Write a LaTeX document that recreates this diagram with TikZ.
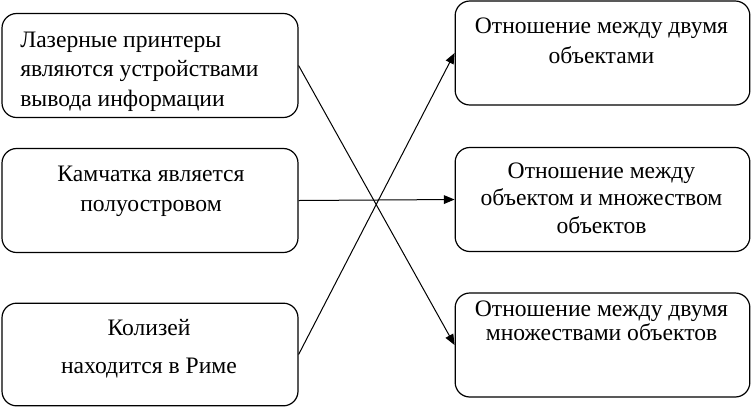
\documentclass[tikz,border=0pt]{standalone}
\usepackage{fontspec}
\setmainfont{Liberation Serif}
\usetikzlibrary{arrows.meta}

\begin{document}
\begin{tikzpicture}[
  x=0.75pt, y=-0.75pt,
  font=\rmfamily\fontsize{17.7}{22}\selectfont,
  box/.style  = {draw, rounded corners=11pt, line width=0.9pt,
                 minimum height=78pt, inner sep=0pt},
  fact/.style = {box, minimum width=222pt},
  rel/.style  = {box, minimum width=221pt},
  txt/.style  = {align=center, inner sep=0pt, anchor=base},
  flow/.style = {-{Triangle[length=8pt,width=6.5pt]}, line width=0.75pt},
]
\useasboundingbox (0,0) rectangle (752,408);

% ---------- facts ----------
\node[fact] (fact1) at (150,65.5)  {};
\node[fact] (fact2) at (150,200.5) {};
\node[fact, minimum height=77pt] (fact3) at (150,354.5) {};

\node[txt, align=left, anchor=base west] (fact1txt) at (20,106)
      {Лазерные принтеры\\являются устройствами\\вывода информации};
\node[txt, font=\rmfamily\fontsize{17.7}{22.5}\selectfont] (fact2txt) at (151,211.5)
      {Камчатка является\\полуостровом};
\node[txt, font=\rmfamily\fontsize{17.7}{28.5}\selectfont] (fact3txt) at (149,373)
      {Колизей\\находится в Риме};

% ---------- relations ----------
\node[rel] (rel1) at (602.5,53)  {};
\node[rel] (rel2) at (602.5,199.5) {};
\node[rel] (rel3) at (602.5,345) {};

\node[txt, font=\rmfamily\fontsize{17.7}{22.5}\selectfont] (rel1txt) at (601.5,63)
      {Отношение между двумя\\объектами};
\node[txt, font=\rmfamily\fontsize{17.7}{20.5}\selectfont] (rel2txt) at (601.5,233)
      {Отношение между\\объектом и множеством\\объектов};
\node[txt, font=\rmfamily\fontsize{17.7}{17.5}\selectfont] (rel3txt) at (601.5,340)
      {Отношение между двумя\\множествами объектов};

% ---------- links ----------
\draw[flow] (fact1.east) -- (rel3.west);
\draw[flow] (fact2.east) -- (rel2.west);
\draw[flow] (fact3.east) -- (rel1.west);

\end{tikzpicture}
\end{document}
